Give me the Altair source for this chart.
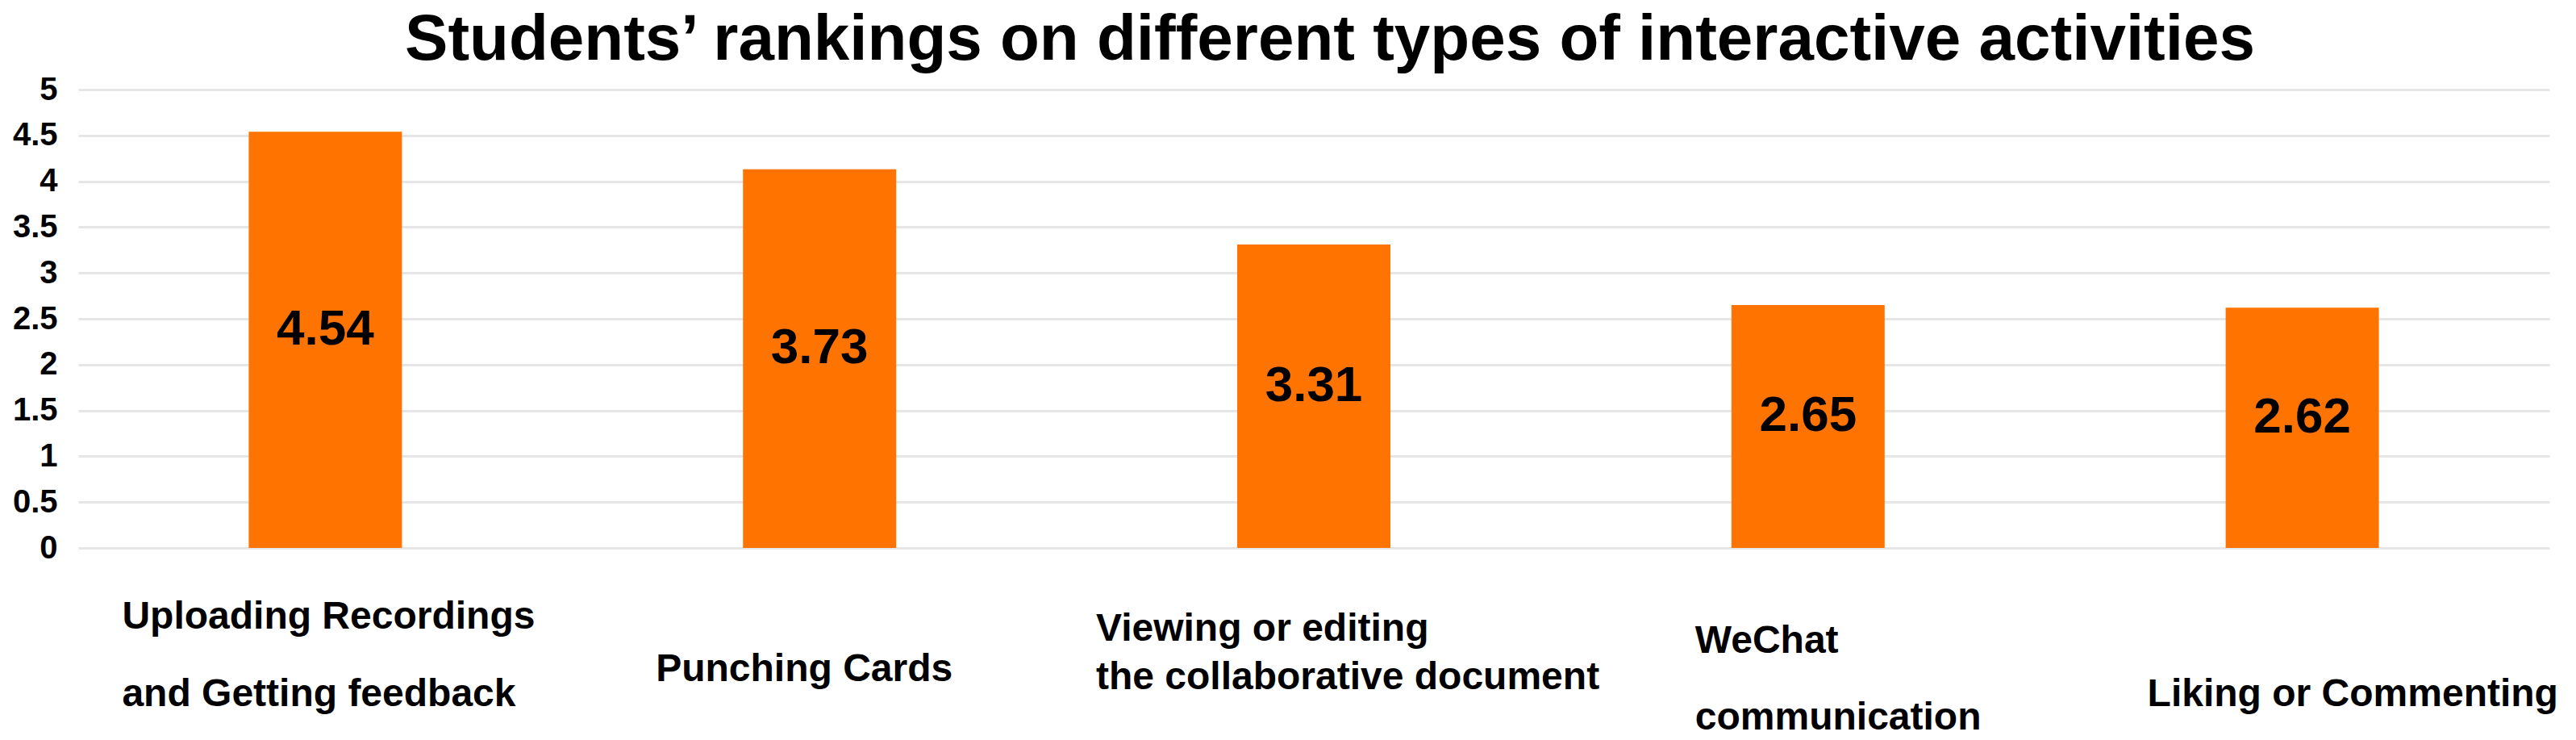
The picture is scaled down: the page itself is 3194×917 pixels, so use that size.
import altair as alt
import pandas as pd

# ---- data ----
categories = [
    "Uploading Recordings\nand Getting feedback",
    "Punching Cards",
    "Viewing or editing\nthe collaborative document",
    "WeChat\ncommunication",
    "Liking or Commenting",
]
bar_values = [4.54, 4.13, 3.31, 2.65, 2.62]
value_labels = ["4.54", "3.73", "3.31", "2.65", "2.62"]
y_ticks = [0, 0.5, 1, 1.5, 2, 2.5, 3, 3.5, 4, 4.5, 5]

df = pd.DataFrame({"activity": categories, "value": bar_values, "label": value_labels})

# ---- style / layout of the category labels ----
FONT = "Liberation Sans"
label_dx = [-252, -203, -270, -140, -192]
label_pad = [61, 126, 76, 91, 157]
label_lh = [96, 96, 60, 95, 96]


def by_index(lst):
    return "[" + ",".join(str(v) for v in lst) + "][indexof(domain('x'), datum.value)]"


x_enc = alt.X(
    "activity:N",
    sort=categories,
    scale=alt.Scale(paddingInner=0.69, paddingOuter=0.345),
    axis=alt.Axis(
        title=None,
        labelAngle=0,
        domain=False,
        ticks=False,
        tickSize=0,
        labelFont=FONT,
        labelFontSize=48,
        labelFontWeight="bold",
        labelColor="#000000",
        labelAlign="left",
        labelBaseline="top",
        labelLimit=0,
        labelOverlap=False,
        labelFlush=False,
        labelExpr="split(datum.label, '\\n')",
        labelOffset=alt.ExprRef(expr=by_index(label_dx)),
        labelPadding=alt.ExprRef(expr=by_index(label_pad)),
        labelLineHeight=alt.ExprRef(expr=by_index(label_lh)),
    ),
)

y_enc = alt.Y(
    "value:Q",
    scale=alt.Scale(domain=[0, 5], nice=False, zero=True),
    axis=alt.Axis(
        title=None,
        values=y_ticks,
        format="~g",
        domain=False,
        ticks=False,
        grid=True,
        gridColor="#e6e6e6",
        gridWidth=3,
        labelFont=FONT,
        labelFontSize=40,
        labelFontWeight="bold",
        labelColor="#000000",
        labelPadding=26,
    ),
)

bars = alt.Chart(df).mark_bar(color="#FF7400").encode(x=x_enc, y=y_enc)

texts = (
    alt.Chart(df)
    .transform_calculate(mid="datum.value / 2")
    .mark_text(
        font=FONT,
        fontSize=62,
        fontWeight="bold",
        color="#000000",
        align="center",
        baseline="middle",
        dy=-13,
    )
    .encode(
        x=alt.X("activity:N", sort=categories),
        y=alt.Y("mid:Q"),
        text="label:N",
    )
)

chart = (
    alt.layer(bars, texts)
    .properties(
        width=3064,
        height=568,
        title=alt.TitleParams(
            "Students’ rankings on different types of interactive activities",
            font=FONT,
            fontSize=80,
            fontWeight="bold",
            color="#000000",
            anchor="middle",
            frame="group",
            dx=20,
            offset=0,
        ),
        padding={"left": 7, "top": 2, "right": 5, "bottom": 0},
        background="#ffffff",
    )
    .configure_view(stroke=None)
)

chart.save("out.html", embed_options={"renderer": "svg", "actions": False})
